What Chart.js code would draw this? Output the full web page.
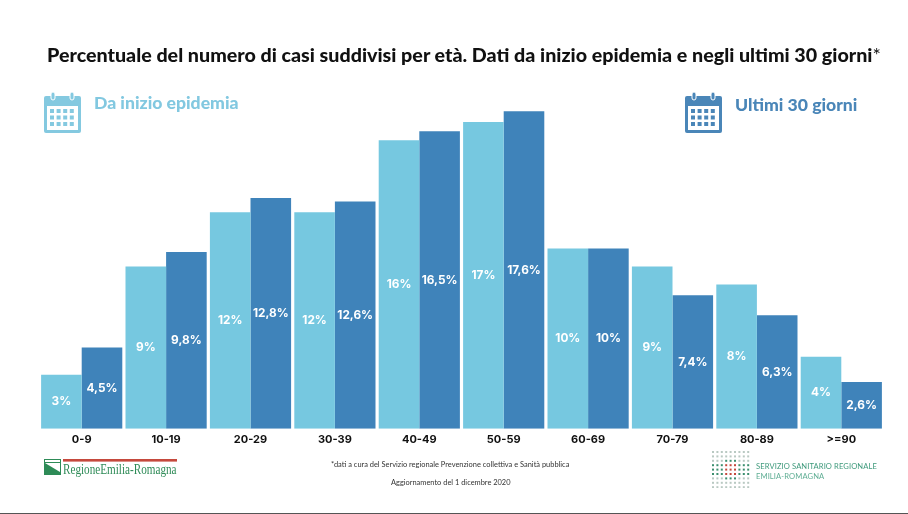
<!DOCTYPE html>
<html><head><meta charset="utf-8">
<script src="https://cdn.jsdelivr.net/npm/chart.js@4"></script>
<style>
html,body{margin:0;padding:0;background:#fff}
#w{position:relative;width:908px;height:514px;overflow:hidden;font-family:Lato,sans-serif}
canvas{position:absolute;left:0;top:0}
.t{position:absolute;white-space:nowrap}
svg{position:absolute}
</style></head><body>
<div id="w">
<canvas id="c" width="908" height="514"></canvas>
<div class="t" style="left:47px;top:43px;font-size:19.68px;font-weight:900;color:#111" id="title">Percentuale del numero di casi suddivisi per età. Dati da inizio epidemia e negli ultimi 30 giorni<span style="font-weight:400">*</span></div>
<div class="t" style="left:94px;top:92px;font-size:17.6px;font-weight:900;color:#82c8e0">Da inizio epidemia</div>
<div class="t" style="left:735px;top:94px;font-size:17.6px;font-weight:900;color:#4a86b8">Ultimi 30 giorni</div>
<div class="t" style="left:331px;top:460px;font-size:7.45px;color:#333;">*dati a cura del Servizio regionale Prevenzione collettiva e Sanità pubblica</div>
<div class="t" style="left:391px;top:478px;font-size:7.45px;color:#333;">Aggiornamento del 1 dicembre 2020</div>
<div class="t" style="left:63px;top:461px;font-size:15px;font-family:'Liberation Serif',serif;color:#2e8b57;transform:scaleX(.745);transform-origin:left top;">RegioneEmilia-Romagna</div>
<div class="t" style="left:756px;top:461px;font-size:7.6px;letter-spacing:.1px;color:#3f9a7c;">SERVIZIO SANITARIO REGIONALE</div>
<div class="t" style="left:756px;top:471px;font-size:7.6px;letter-spacing:.1px;color:#5fae94;">EMILIA-ROMAGNA</div>
<svg id="ico1" style="left:43px;top:91px" width="39" height="44"></svg>
<svg id="ico2" style="left:684px;top:91px" width="39" height="44"></svg>
<svg style="left:44px;top:458px" width="134" height="20">
<rect x="0" y="1" width="17" height="16" fill="#2e8b57"/><path d="M1 5 L16 5 L16 14 Z" fill="#fff"/><path d="M1 2 h15 v2 h-15z" fill="#fff"/>
<rect x="19" y="1" width="114" height="2.6" fill="#c5493d"/></svg>
<svg id="dots" style="left:711px;top:450px" width="40" height="38"></svg>
<div style="position:absolute;left:0;top:513px;width:908px;height:1px;background:#555"></div>
</div>
<script>
const categories=["0-9","10-19","20-29","30-39","40-49","50-59","60-69","70-79","80-89",">=90"];
const daInizioEpidemia=[3,9,12,12,16,17,10,9,8,4];
const ultimi30Giorni=[4.5,9.8,12.8,12.6,16.5,17.6,10,7.4,6.3,2.6];
const seriesNames=["Da inizio epidemia","Ultimi 30 giorni"];

function calIcon(id,col){
  let s=`<rect x="1" y="5" width="37" height="37" rx="2" fill="${col}"/><rect x="4" y="15" width="31" height="24" fill="#fff"/>`;
  s+=`<rect x="8" y="1" width="4" height="8" rx="2" fill="${col}" stroke="#fff" stroke-width="1"/><rect x="27" y="1" width="4" height="8" rx="2" fill="${col}" stroke="#fff" stroke-width="1"/>`;
  for(let r=0;r<3;r++)for(let k=0;k<4;k++)s+=`<rect x="${7+k*6.6}" y="${18+r*6.5}" width="4" height="4" fill="${col}"/>`;
  document.getElementById(id).innerHTML=s;
}
calIcon("ico1","#84c9e0");calIcon("ico2","#4a86b8");
(function(){let s="";for(let r=0;r<9;r++)for(let k=0;k<9;k++){
  const red=Math.abs(r-4)<=1&&k>=3&&k<=5;
  const band=r>=3&&r<=5;const col=red?"#c5493d":(band||(k>=3&&k<=5&&r>=2&&r<=6))?"#3c8f6f":"#b9c9c2";
  s+=`<rect x="${1+k*4.4}" y="${1+r*4.4}" width="2" height="2" fill="${col}"/>`;}
  document.getElementById("dots").innerHTML=s;})();

const labelPlugin={id:"vals",afterDatasetsDraw(ch){
  const g=ch.ctx;g.save();g.fillStyle="#fff";g.font="700 11.8px Inter, sans-serif";g.textAlign="center";g.textBaseline="middle";
  ch.data.datasets.forEach((ds,i)=>{ch.getDatasetMeta(i).data.forEach((b,j)=>{
    const t=String(ds.data[j]).replace(".",",")+"%";
    g.fillText(t,b.x,(b.y+b.base)/2);
  });});g.restore();}};

new Chart(document.getElementById("c"),{type:"bar",
 data:{labels:categories,datasets:[
  {label:seriesNames[0],data:daInizioEpidemia,backgroundColor:"#76c8e0"},
  {label:seriesNames[1],data:ultimi30Giorni,backgroundColor:"#3f83ba"}]},
 options:{responsive:false,animation:false,devicePixelRatio:1,
  layout:{padding:{left:39.5,right:24.5,top:68,bottom:64}},
  categoryPercentage:.962,barPercentage:1,
  plugins:{legend:{display:false},tooltip:{enabled:false},title:{display:false}},
  scales:{
   x:{grid:{display:false,drawTicks:false},border:{display:false},
      ticks:{color:"#111",font:{family:"Inter, sans-serif",size:11,weight:"700"},padding:4,maxRotation:0,autoSkip:false}},
   y:{display:false,min:0,max:20}}},
 plugins:[labelPlugin]});
</script>
</body></html>
